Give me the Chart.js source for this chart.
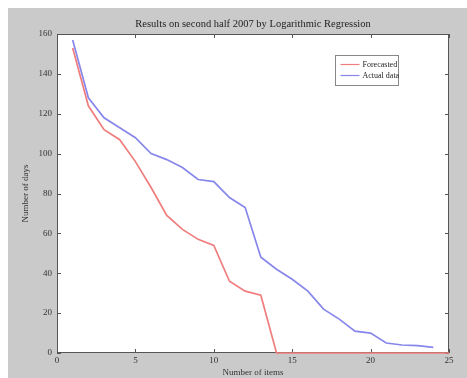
<!DOCTYPE html>
<html>
<head>
<meta charset="utf-8">
<script src="https://cdn.jsdelivr.net/npm/chart.js@4.4.1/dist/chart.umd.min.js"></script>
<style>
html,body{margin:0;padding:0;background:#fff;}
#c{display:block;}
</style>
</head>
<body>
<canvas id="c" width="467" height="378"></canvas>
<script>
// ---- data ----
const items = [1,2,3,4,5,6,7,8,9,10,11,12,13,14,15,16,17,18,19,20,21,22,23,24,25];
const forecasted = [153,124,112,107,96,83,69,62,57,54,36,31,29,0,0,0,0,0,0,0,0,0,0,0,0];
const actualData = [157,128,118,113,108,100,97,93,87,86,78,73,48,42,37,31,22,17,11,10,5,4,3.7,2.8,null];
const xTicks = [0,5,10,15,20,25];
const yTicks = [0,20,40,60,80,100,120,140,160];
const seriesNames = ['Forecasted','Actual data'];
const titleText = 'Results on second half 2007 by Logarithmic Regression';

const SERIF = "'Liberation Serif', 'DejaVu Serif', serif";
const RED = 'rgb(240,125,125)';
const BLUE = 'rgb(135,135,235)';

const bgPlugin = {
  id: 'bg',
  beforeDraw(chart) {
    const {ctx, chartArea: a} = chart;
    ctx.save();
    ctx.fillStyle = '#ffffff';
    ctx.fillRect(0, 0, chart.width, chart.height);
    ctx.fillStyle = '#cacaca';
    ctx.fillRect(8, 8, chart.width - 8, chart.height - 8);
    ctx.fillStyle = '#ffffff';
    ctx.fillRect(a.left, a.top, a.right - a.left, a.bottom - a.top);
    // title centred over the plot area
    ctx.fillStyle = '#222';
    ctx.font = '10.5px ' + SERIF;
    ctx.textAlign = 'center';
    ctx.textBaseline = 'middle';
    ctx.fillText(titleText, (a.left + a.right) / 2, 24);
    ctx.restore();
  },
  beforeDatasetsDraw(chart) {
    const {ctx, chartArea: a, scales} = chart;
    ctx.save();
    ctx.strokeStyle = '#555';
    ctx.lineWidth = 1;
    ctx.strokeRect(Math.round(a.left) + 0.5, Math.round(a.top) + 0.5, Math.round(a.right - a.left) - 1, Math.round(a.bottom - a.top) - 1);
    const tl = 4;
    ctx.beginPath();
    scales.x.ticks.forEach(t => {
      const px = Math.round(scales.x.getPixelForValue(t.value)) + 0.5;
      ctx.moveTo(px, a.bottom); ctx.lineTo(px, a.bottom - tl);
      ctx.moveTo(px, a.top); ctx.lineTo(px, a.top + tl);
    });
    scales.y.ticks.forEach(t => {
      const py = Math.round(scales.y.getPixelForValue(t.value)) + 0.5;
      ctx.moveTo(a.left, py); ctx.lineTo(a.left + tl, py);
      ctx.moveTo(a.right, py); ctx.lineTo(a.right - tl, py);
    });
    ctx.stroke();
    ctx.restore();
  },
  afterDatasetsDraw(chart) {
    const {ctx} = chart;
    ctx.save();
    // legend
    const lx = 335.5, ly = 55.5, lw = 63, lh = 30;
    ctx.fillStyle = '#fff';
    ctx.fillRect(lx, ly, lw, lh);
    ctx.strokeStyle = '#888';
    ctx.lineWidth = 1;
    ctx.strokeRect(lx, ly, lw, lh);
    const colors = [RED, BLUE];
    ctx.font = '8px ' + SERIF;
    ctx.textBaseline = 'middle';
    ctx.textAlign = 'left';
    seriesNames.forEach((n, i) => {
      const y = ly + 9 + i * 11;
      ctx.strokeStyle = colors[i];
      ctx.lineWidth = 1.2;
      ctx.beginPath(); ctx.moveTo(lx + 5, y); ctx.lineTo(lx + 24, y); ctx.stroke();
      ctx.fillStyle = '#222';
      ctx.fillText(n, lx + 27, y);
    });
    ctx.restore();
  }
};

new Chart(document.getElementById('c'), {
  type: 'line',
  data: {
    datasets: [
      { label: seriesNames[0], data: items.map((x, i) => ({x, y: forecasted[i]})), borderColor: RED, borderWidth: 1.7, pointRadius: 0, tension: 0, clip: 4 },
      { label: seriesNames[1], data: items.map((x, i) => ({x, y: actualData[i]})), borderColor: BLUE, borderWidth: 1.7, pointRadius: 0, tension: 0, clip: 4 }
    ]
  },
  options: {
    responsive: false,
    animation: false,
    events: [],
    layout: { padding: { left: 0, right: 18, top: 34, bottom: 0 } },
    plugins: {
      legend: { display: false },
      tooltip: { enabled: false },
      title: { display: false }
    },
    scales: {
      x: {
        type: 'linear', min: 0, max: 25,
        afterBuildTicks(s) { s.ticks = xTicks.map(v => ({value: v})); },
        afterFit(s) { s.height = 25; },
        grid: { display: false, drawTicks: false },
        border: { display: false },
        ticks: { color: '#333', font: { family: SERIF, size: 9 }, padding: 2, maxRotation: 0 },
        title: { display: true, text: 'Number of items', color: '#333', font: { family: SERIF, size: 9 }, padding: { top: 0, bottom: 0 } }
      },
      y: {
        type: 'linear', min: 0, max: 160,
        afterBuildTicks(s) { s.ticks = yTicks.map(v => ({value: v})); },
        afterFit(s) { s.width = 57; },
        grid: { display: false, drawTicks: false },
        border: { display: false },
        ticks: { color: '#333', font: { family: SERIF, size: 9 }, padding: 5 },
        title: { display: true, text: 'Number of days', color: '#333', font: { family: SERIF, size: 9 }, padding: { top: 20, bottom: 0 } }
      }
    }
  },
  plugins: [bgPlugin]
});
</script>
</body>
</html>
